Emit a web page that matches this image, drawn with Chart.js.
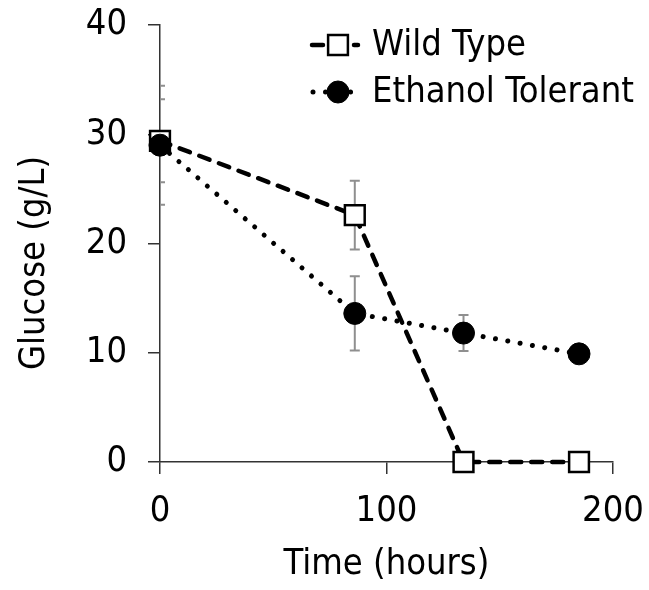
<!DOCTYPE html>
<html>
<head>
<meta charset="utf-8">
<script src="https://cdn.jsdelivr.net/npm/chart.js@4.4.0/dist/chart.umd.min.js"></script>
<style>
  html, body { margin: 0; padding: 0; background: #fff; }
  canvas { display: block; }
</style>
</head>
<body>
<canvas id="glucoseChart" width="649" height="590"></canvas>
<script>
// Values
const timeHours = [0, 86, 134, 185];
const wildType = [29.4, 22.6, 0, 0];
const wildTypeErr = [3.8, 3.15, 0, 0];
const ethanolTolerant = [29.0, 13.6, 11.8, 9.9];
const ethanolTolerantErr = [5.45, 3.4, 1.65, 0];
const xTicks = [0, 100, 200];
const yTicks = [0, 10, 20, 30, 40];
const yTitle = "Glucose (g/L)";

const FONT = "'DejaVu Sans Condensed', 'DejaVu Sans', sans-serif";
const AXIS = "#333";

const toPoints = ys => timeHours.map((t, i) => ({ x: t, y: ys[i] }));

// Error bars, drawn under the markers and clipped to the plot area
const errorBars = {
  id: "errorBars",
  beforeDatasetsDraw(chart) {
    const { ctx, chartArea, scales: { x, y } } = chart;
    ctx.save();
    ctx.beginPath();
    ctx.rect(chartArea.left, chartArea.top, chartArea.width, chartArea.height);
    ctx.clip();
    ctx.strokeStyle = "#8f8f8f";
    ctx.lineWidth = 2;
    chart.data.datasets.forEach(ds => {
      ds.data.forEach((p, i) => {
        const err = ds.errors[i];
        if (!err) return;
        const px = x.getPixelForValue(p.x);
        const top = y.getPixelForValue(p.y + err);
        const bottom = y.getPixelForValue(p.y - err);
        ctx.beginPath();
        ctx.moveTo(px, top); ctx.lineTo(px, bottom);
        ctx.moveTo(px - 5, top); ctx.lineTo(px + 5, top);
        ctx.moveTo(px - 5, bottom); ctx.lineTo(px + 5, bottom);
        ctx.stroke();
      });
    });
    ctx.restore();
  }
};

// Legend with a line sample and its marker, plus the y title
const lineLegend = {
  id: "lineLegend",
  afterDraw(chart) {
    const { ctx } = chart;
    const items = [chart.data.datasets[1], chart.data.datasets[0]];
    items.forEach((ds, i) => {
      const yPos = 45 + i * 47;
      ctx.save();
      ctx.strokeStyle = "#000";
      ctx.lineWidth = ds.borderWidth;
      ctx.lineCap = ds.borderCapStyle;
      ctx.setLineDash(ds.borderDash);
      ctx.beginPath();
      ctx.moveTo(i === 0 ? 312 : 313, yPos);
      ctx.lineTo(i === 0 ? 358 : 351, yPos);
      ctx.stroke();
      ctx.setLineDash([]);
      ctx.lineCap = "butt";
      ctx.fillStyle = ds.pointBackgroundColor;
      ctx.strokeStyle = ds.pointBorderColor;
      ctx.lineWidth = ds.pointBorderWidth;
      Chart.helpers.drawPoint(ctx, {
        pointStyle: ds.pointStyle,
        radius: ds.pointRadius,
        rotation: 0,
        borderWidth: ds.pointBorderWidth
      }, 338, yPos);
      ctx.fillStyle = "#000";
      ctx.font = "36px " + FONT;
      ctx.textBaseline = "middle";
      ctx.fillText(ds.label, 372, yPos + 1);
      ctx.restore();
    });

    ctx.save();
    ctx.translate(35, 263);
    ctx.rotate(-Math.PI / 2);
    ctx.fillStyle = "#000";
    ctx.font = "36px " + FONT;
    ctx.textAlign = "center";
    ctx.textBaseline = "middle";
    ctx.fillText(yTitle, 0, 0);
    ctx.restore();
  }
};

const ctx = document.getElementById("glucoseChart").getContext("2d");
const glucoseChart = new Chart(ctx, {
  type: "line",
  data: {
    datasets: [{
      label: "Ethanol Tolerant",
      data: toPoints(ethanolTolerant),
      errors: ethanolTolerantErr,
      order: 0,
      clip: false,
      borderColor: "#000",
      borderWidth: 5,
      borderDash: [0.01, 12.5],
      borderCapStyle: "round",
      pointStyle: "circle",
      pointRadius: 11,
      pointHoverRadius: 11,
      pointBackgroundColor: "#000",
      pointBorderColor: "#000",
      pointBorderWidth: 1,
      tension: 0
    }, {
      label: "Wild Type",
      data: toPoints(wildType),
      errors: wildTypeErr,
      order: 1,
      clip: false,
      borderColor: "#000",
      borderWidth: 4.5,
      borderDash: [11, 10],
      borderCapStyle: "round",
      pointStyle: "rect",
      pointRadius: 14,
      pointHoverRadius: 14,
      pointBackgroundColor: "#fff",
      pointBorderColor: "#000",
      pointBorderWidth: 2.5,
      tension: 0
    }]
  },
  options: {
    responsive: false,
    animation: false,
    layout: { padding: { top: 25, right: 36, left: 0, bottom: 0 } },
    plugins: {
      legend: { display: false },
      tooltip: { enabled: false }
    },
    scales: {
      x: {
        type: "linear",
        min: 0,
        max: 200,
        afterBuildTicks: s => { s.ticks = xTicks.map(v => ({ value: v })); },
        afterFit: s => { s.height = 128; s.paddingLeft = 0; s.paddingRight = 0; },
        grid: { drawOnChartArea: false, tickLength: 12, color: AXIS, lineWidth: 1.5 },
        border: { color: AXIS, width: 1.5 },
        ticks: { color: "#000", padding: 16, maxRotation: 0, font: { family: FONT, size: 36 } },
        title: { display: true, text: "Time (hours)", color: "#000", padding: { top: 0, bottom: 4 }, font: { family: FONT, size: 36 } }
      },
      y: {
        min: 0,
        max: 40,
        afterBuildTicks: s => { s.ticks = yTicks.map(v => ({ value: v })); },
        afterFit: s => { s.width = 160; s.paddingTop = 0; s.paddingBottom = 0; },
        grid: { drawOnChartArea: false, tickLength: 12, color: AXIS, lineWidth: 1.5 },
        border: { color: AXIS, width: 1.5 },
        ticks: { color: "#000", padding: 21, font: { family: FONT, size: 36 } }
      }
    }
  },
  plugins: [errorBars, lineLegend]
});
</script>
</body>
</html>
